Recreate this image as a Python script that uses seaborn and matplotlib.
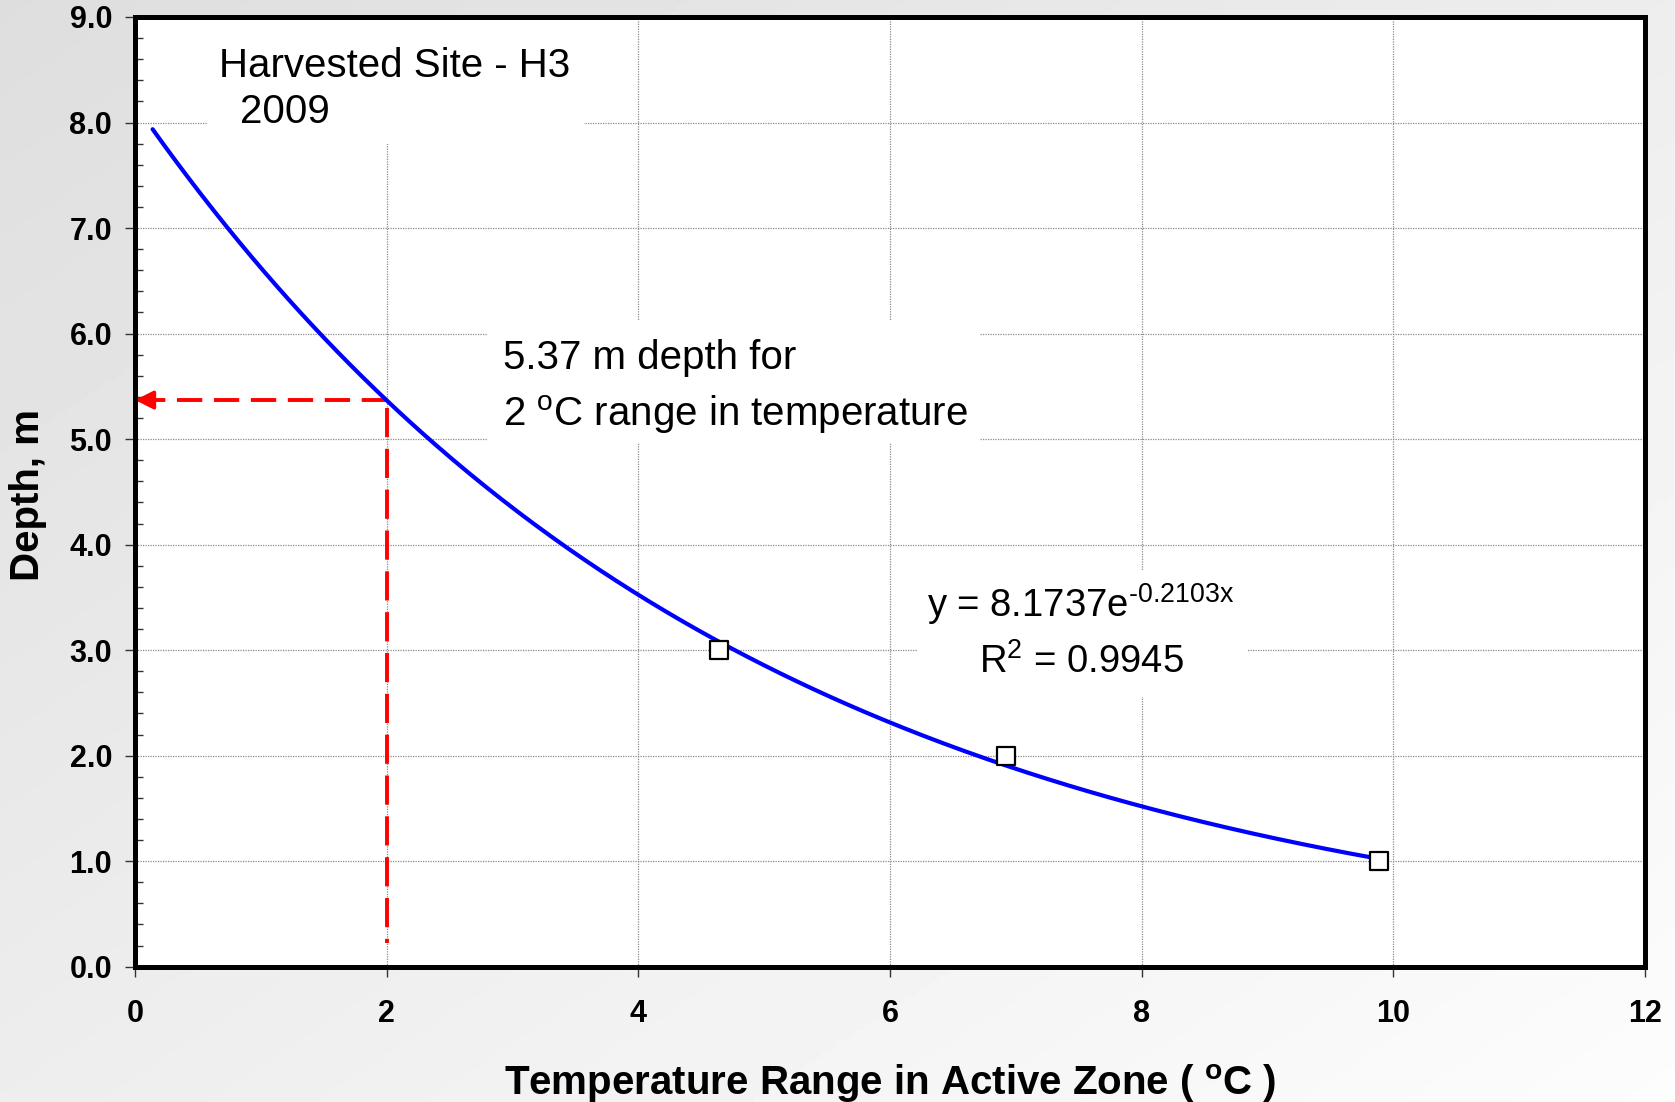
import numpy as np
import pandas as pd
import matplotlib
matplotlib.use("Agg")
import matplotlib.pyplot as plt
from matplotlib.patches import Rectangle
from matplotlib.ticker import MultipleLocator, FormatStrFormatter
import seaborn as sns

# ---------------- data ----------------
temp_range = [4.64, 6.92, 9.89]          # deg C
depth = [3.0, 2.0, 1.0]                  # m
fit_a = 8.1737                           # y = a * exp(b x)
fit_b = -0.2103
fit_x_start = 0.14
fit_x_end = 9.89
target_x = 2.0
target_y = 5.37
vline_bottom = 0.22

title_lines = ["Harvested Site - H3", "2009"]
note_lines = ["5.37 m depth for", r"2 $^{\mathregular{o}}$C range in temperature"]
eq_lines = ["y = 8.1737e$^{\\mathregular{\u20100.2103x}}$", r"R$^{\mathregular{2}}$ = 0.9945"]
xlabel = r"Temperature Range in Active Zone ( $^{\mathregular{o}}$C )"
ylabel = "Depth, m"

# ---------------- style ----------------
sns.set_style("white")
plt.rcParams["font.family"] = ["Liberation Sans", "DejaVu Sans"]
plt.rcParams["mathtext.default"] = "regular"
plt.rcParams["text.color"] = "black"
plt.rcParams["axes.labelcolor"] = "black"
plt.rcParams["xtick.color"] = "black"
plt.rcParams["ytick.color"] = "black"

W, H, DPI = 1675, 1102, 100
fig = plt.figure(figsize=(W / DPI, H / DPI), dpi=DPI)

# gradient background
bg = fig.add_axes([0, 0, 1, 1], zorder=-10)
u = np.linspace(0, 1, 300)
v = np.linspace(0, 1, 200)
U, V = np.meshgrid(u, v)
grad = 0.87 + 0.12 * (U + V) / 2
bg.imshow(grad, cmap="gray", vmin=0, vmax=1, extent=[0, 1, 0, 1], aspect="auto", origin="upper")
bg.set_axis_off()

ax = fig.add_axes([135 / W, 1 - 966.7 / H, (1645 - 135) / W, (966.7 - 17) / H])
ax.set_facecolor("white")

# trendline
fit_x = np.linspace(fit_x_start, fit_x_end, 300)
fit_df = pd.DataFrame({"x": fit_x, "y": fit_a * np.exp(fit_b * fit_x)})
sns.lineplot(data=fit_df, x="x", y="y", ax=ax, color="#0000ff", lw=3.0, zorder=3)

# data points
pts = pd.DataFrame({"x": temp_range, "y": depth})
sns.scatterplot(data=pts, x="x", y="y", ax=ax, marker="s", s=150, color="white",
                edgecolor="black", linewidth=1.6, zorder=4)

# red dashed guides
ax.plot([target_x, 0.12], [target_y, target_y], color="#ff0000", lw=2.8,
        dashes=(6.5, 3), solid_capstyle="butt", dash_capstyle="butt", zorder=2.6)
ax.plot([target_x, target_x], [target_y - 0.08, vline_bottom], color="#ff0000", lw=2.8,
        dashes=(7.5, 3), dash_capstyle="butt", zorder=2.6)
ax.annotate("", xy=(0.0, target_y), xytext=(0.13, target_y),
            arrowprops=dict(arrowstyle="-|>", color="#ff0000", lw=2.5,
                            mutation_scale=28, shrinkA=0, shrinkB=0), zorder=2.7)

# axes limits/ticks
ax.set_xlim(0, 12)
ax.set_ylim(0, 9)
ax.xaxis.set_major_locator(MultipleLocator(2))
ax.yaxis.set_major_locator(MultipleLocator(1))
ax.yaxis.set_minor_locator(MultipleLocator(0.2))
ax.yaxis.set_major_formatter(FormatStrFormatter("%.1f"))
ax.tick_params(axis="both", which="major", direction="out", length=7.5, width=1.0,
               color="#333333", labelsize=22, labelcolor="black")
ax.tick_params(axis="x", which="major", pad=16, bottom=True)
ax.tick_params(axis="y", which="major", pad=9, left=True)
ax.tick_params(axis="y", which="minor", direction="in", length=6, width=1.0,
               color="#333333", left=True)
for lab in ax.get_xticklabels() + ax.get_yticklabels():
    lab.set_fontweight("bold")

ax.grid(True, which="major", color="#8a8a8a", lw=0.9, linestyle=(0, (1, 1)))
ax.set_axisbelow(True)
for sp in ax.spines.values():
    sp.set_visible(True)
    sp.set_color("black")
    sp.set_linewidth(3.6)
    sp.set_zorder(5)

ax.set_xlabel(xlabel, fontsize=29, fontweight="bold")
ax.set_ylabel(ylabel, fontsize=29, fontweight="bold")
ax.xaxis.label.set_verticalalignment("baseline")
ax.xaxis.set_label_coords(0.5, (966.7 - 1095) / 949.7)
ax.yaxis.label.set_rotation_mode("default")
ax.yaxis.label.set_horizontalalignment("center")
ax.yaxis.label.set_verticalalignment("center")
ax.yaxis.set_label_coords((28 - 135) / 1510, 0.4967)

# text boxes (white, occluding grid)
def px2d(px, py):
    return (px - 135) / 125.75, (966.7 - py) / 105.5

def add_box(x0, y0, x1, y1):
    (dx0, dy0), (dx1, dy1) = px2d(x0, y1), px2d(x1, y0)
    ax.add_patch(Rectangle((dx0, dy0), dx1 - dx0, dy1 - dy0, facecolor="white",
                           edgecolor="none", zorder=1))

add_box(208, 17, 584, 144)
add_box(488, 320, 979, 443)
add_box(917, 571, 1246, 697)

fs = 29
tx, ty = px2d(219, 76.7)
ax.text(tx, ty, title_lines[0], fontsize=fs, va="baseline", ha="left", zorder=6)
tx, ty = px2d(240, 123.3)
ax.text(tx, ty, title_lines[1], fontsize=fs, va="baseline", ha="left", zorder=6)

tx, ty = px2d(502.7, 369.3)
ax.text(tx, ty, note_lines[0], fontsize=fs, va="baseline", ha="left", zorder=6)
tx, ty = px2d(502.7, 426)
ax.text(tx, ty, note_lines[1], fontsize=fs, va="baseline", ha="left", zorder=6)

tx, ty = px2d(1080, 616.7)
ax.text(tx, ty, eq_lines[0], fontsize=27.5, va="baseline", ha="center", zorder=6)
tx, ty = px2d(1081, 673.3)
ax.text(tx, ty, eq_lines[1], fontsize=27.5, va="baseline", ha="center", zorder=6)

fig.savefig("out.png", dpi=DPI)
